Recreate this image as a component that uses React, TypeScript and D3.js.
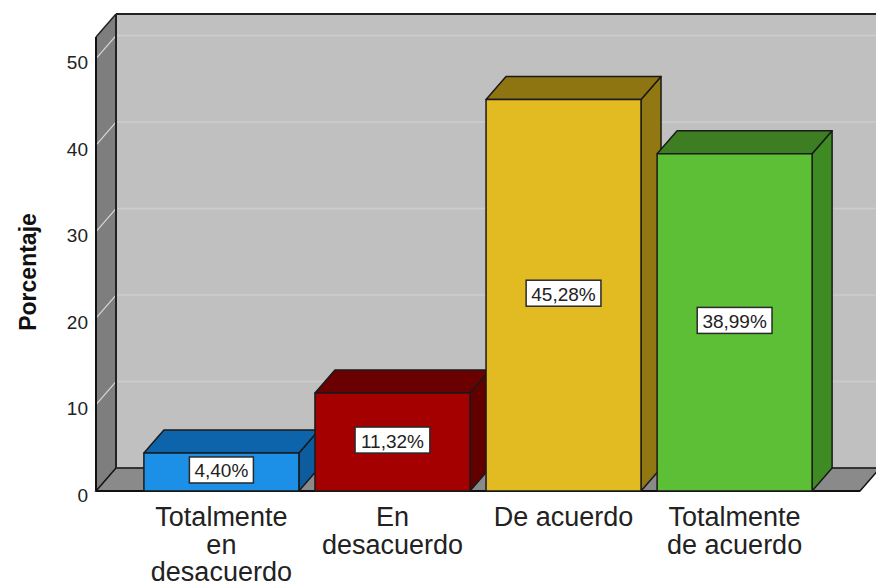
import React from "react";
import * as d3 from "d3";

const categories = ["Totalmente en desacuerdo", "En desacuerdo", "De acuerdo", "Totalmente de acuerdo"];
const categoryLines = [["Totalmente", "en", "desacuerdo"], ["En", "desacuerdo"], ["De acuerdo"], ["Totalmente", "de acuerdo"]];
const values = [4.40, 11.32, 45.28, 38.99];
const valueLabels = ["4,40%", "11,32%", "45,28%", "38,99%"];
const yTicks = [0, 10, 20, 30, 40, 50];
const yTitle = "Porcentaje";

const frontColors = ["#1b90e6", "#a40000", "#e2ba22", "#5dbf36"];
const topColors = ["#0e64aa", "#6a0000", "#8e7511", "#3d7e22"];
const sideColors = ["#0c5c9e", "#620000", "#927812", "#3f8b23"];

const W = 876, H = 586;
const left = 96, right = 860, top = 37, bottom = 491;
const DX = 20, DY = -23;
const FONT = "'Liberation Sans', Arial, sans-serif";

export default function App() {
  const x = d3.scaleBand<string>().domain(categories).range([left, right]).paddingInner(0.094).paddingOuter(0.28);
  const y = d3.scaleLinear().domain([0, 52.5]).range([bottom, top]);
  const bw = x.bandwidth();
  const pts = (p: number[][]) => p.map((q) => q.join(",")).join(" ");

  return (
    <svg width={W} height={H} style={{ position: "absolute", left: 0, top: 0, background: "#fff" }} fontFamily={FONT}>
      {/* back wall */}
      <rect x={left + DX} y={top + DY} width={W - left - DX + 10} height={bottom - top} fill="#c0c0c0" />
      {/* side wall */}
      <polygon points={pts([[left, top], [left + DX, top + DY], [left + DX, bottom + DY], [left, bottom]])} fill="#7e7e7e" />
      {/* floor */}
      <polygon points={pts([[left, bottom], [left + DX, bottom + DY], [right + DX, bottom + DY], [right, bottom]])} fill="#8a8a8a" stroke="#111" strokeWidth={1.5} />
      {/* gridlines */}
      {yTicks.filter((t) => t > 0).map((t) => (
        <g key={"g" + t}>
          <line x1={left + DX} x2={W} y1={y(t) + DY} y2={y(t) + DY} stroke="#cdcdcd" strokeWidth={1.5} />
          <line x1={left} x2={left + DX} y1={y(t)} y2={y(t) + DY} stroke="#d8d8d8" strokeWidth={1.2} />
        </g>
      ))}
      {/* wall edges */}
      <line x1={left + DX} x2={W} y1={top + DY} y2={top + DY} stroke="#222" strokeWidth={2} />
      <line x1={left + DX} x2={left + DX} y1={top + DY} y2={bottom + DY} stroke="#222" strokeWidth={2} />
      <line x1={left + DX} x2={right + DX} y1={bottom + DY} y2={bottom + DY} stroke="#333" strokeWidth={1.2} />
      <line x1={left} x2={left + DX} y1={top} y2={top + DY} stroke="#222" strokeWidth={1.5} />
      <line x1={left} x2={left} y1={top} y2={bottom} stroke="#111" strokeWidth={2} />
      <line x1={left} x2={right} y1={bottom} y2={bottom} stroke="#111" strokeWidth={2} />

      {/* bars */}
      {categories.map((c, i) => {
        const x0 = x(c) as number;
        const x1 = x0 + bw;
        const yv = y(values[i]);
        const yb = y(0);
        return (
          <g key={c} stroke="#1a1a1a" strokeWidth={1.5} strokeLinejoin="round">
            <polygon points={pts([[x1, yv], [x1 + DX, yv + DY], [x1 + DX, yb + DY], [x1, yb]])} fill={sideColors[i]} />
            <polygon points={pts([[x0, yv], [x0 + DX, yv + DY], [x1 + DX, yv + DY], [x1, yv]])} fill={topColors[i]} />
            <rect x={x0} y={yv} width={bw} height={yb - yv} fill={frontColors[i]} />
          </g>
        );
      })}

      {/* value labels */}
      {categories.map((c, i) => {
        const cx = (x(c) as number) + bw / 2;
        const cy = (y(values[i]) + y(0)) / 2 - 2;
        const w = valueLabels[i].length * 10.8 + 10;
        return (
          <g key={"v" + c}>
            <rect x={cx - w / 2} y={cy - 13} width={w} height={26} fill="#fff" stroke="#2a2a2a" strokeWidth={1.5} />
            <text x={cx} y={cy + 1} textAnchor="middle" dominantBaseline="central" fontSize={19} fill="#222">{valueLabels[i]}</text>
          </g>
        );
      })}

      {/* y tick labels */}
      {yTicks.map((t) => (
        <text key={"t" + t} x={88} y={y(t) + 4} textAnchor="end" dominantBaseline="central" fontSize={19} fill="#222">{t}</text>
      ))}

      {/* y title */}
      <text transform={`translate(28,272) rotate(-90)`} textAnchor="middle" dominantBaseline="central" fontSize={23} fontWeight="bold" fill="#111">{yTitle}</text>

      {/* category labels */}
      {categories.map((c, i) => (
        <text key={"c" + c} textAnchor="middle" fontSize={27} fill="#222">
          {categoryLines[i].map((ln, j) => (
            <tspan key={j} x={(x(c) as number) + bw / 2} y={526 + j * 27.5}>{ln}</tspan>
          ))}
        </text>
      ))}
    </svg>
  );
}
